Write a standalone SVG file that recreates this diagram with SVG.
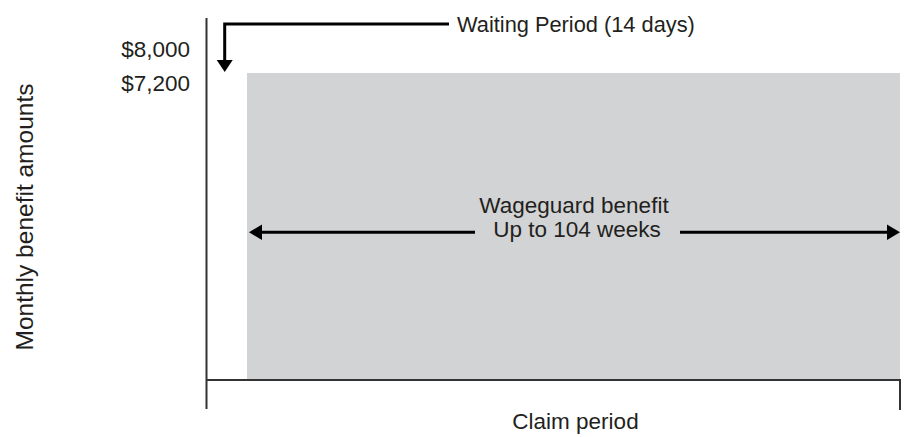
<svg xmlns="http://www.w3.org/2000/svg" width="908" height="437" viewBox="0 0 908 437">
<style>
text{font-family:"Liberation Sans",Arial,sans-serif;fill:#231f20;font-size:22.5px}
.ax{stroke:#333;stroke-width:2;fill:none}
.ar{stroke:#000;stroke-width:3;fill:none}
.hd{fill:#000}
</style>
<rect width="908" height="437" fill="#fff"/>
<g id="benefit-area">
<rect x="247" y="73" width="653" height="306" fill="#d1d3d4"/>
</g>
<g id="axes">
<line class="ax" x1="206.5" y1="18" x2="206.5" y2="409"/>
<line class="ax" x1="206" y1="380" x2="900" y2="380"/>
<line class="ax" x1="900" y1="379" x2="900" y2="410"/>
</g>
<g id="y-labels">
<text x="190" y="57" text-anchor="end">$8,000</text>
<text x="190" y="91" text-anchor="end">$7,200</text>
<text transform="translate(33,217) rotate(-90)" text-anchor="middle" font-size="24.5" style="font-size:24.5px">Monthly benefit amounts</text>
</g>
<g id="x-label">
<text x="575.5" y="429" text-anchor="middle">Claim period</text>
</g>
<g id="waiting-period">
<text x="457" y="31.5" font-size="21.8" style="font-size:21.8px">Waiting Period (14 days)</text>
</g>
<g id="wageguard-label">
<text x="574" y="212.5" text-anchor="middle">Wageguard benefit</text>
<text x="577" y="236.5" text-anchor="middle">Up to 104 weeks</text>
</g>
<g id="connectors">
<path class="ar" d="M449,24 H224.7 V62"/>
<polygon class="hd" points="216.7,60 232.7,60 224.7,72"/>
<line class="ar" x1="259" y1="232.3" x2="475" y2="232.3"/>
<line class="ar" x1="680" y1="232.3" x2="890" y2="232.3"/>
<polygon class="hd" points="249,232.3 262,224.5 262,240"/>
<polygon class="hd" points="900,232.3 887,224.5 887,240"/>
</g>
</svg>
